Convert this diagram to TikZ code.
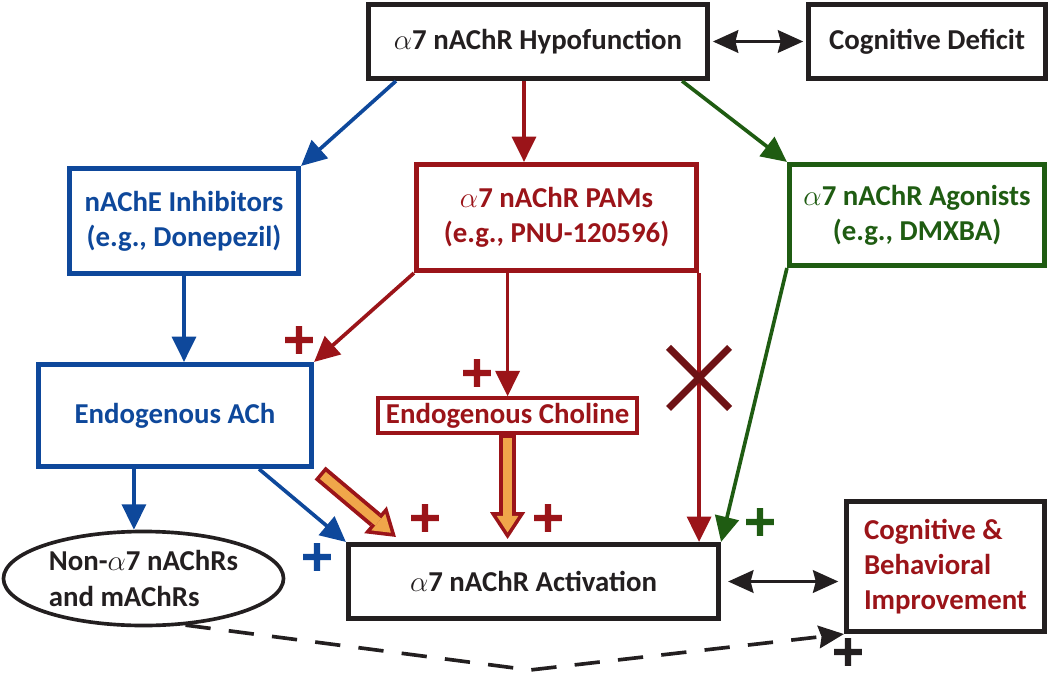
\documentclass[tikz,border=0pt]{standalone}
\usepackage{fontspec}
\setmainfont{Carlito}
\newfontfamily\plusfont[BoldFeatures={FakeBold=3}]{DejaVu Sans}
\usetikzlibrary{shapes,arrows.meta,calc}
\definecolor{ablue}{RGB}{14,72,155}
\definecolor{ared}{RGB}{155,20,25}
\definecolor{agreen}{RGB}{31,92,18}
\definecolor{aorange}{RGB}{240,166,74}
\definecolor{across}{RGB}{110,18,21}
\definecolor{ablack}{RGB}{35,31,32}
\tikzstyle{block} = [draw, rectangle, line width=3.6pt, text centered, inner sep=0pt, font=\fontsize{20.5}{25}\selectfont\bfseries]
\tikzstyle{oval} = [draw, ellipse, line width=2.6pt, align=left, inner sep=0pt, font=\fontsize{20.5}{25}\selectfont\bfseries]
\tikzstyle{line} = [draw, line width=2.6pt, -{Triangle[length=18pt,width=17pt]}]
\tikzstyle{both} = [draw, ablack, line width=2.4pt, {Stealth[length=18pt,width=16pt,inset=2pt]}-{Stealth[length=18pt,width=16pt,inset=2pt]}]
\tikzstyle{fatout} = [draw, ared, line width=12pt, -{Triangle[length=19pt,width=25pt,line width=0pt]}]
\tikzstyle{fatin} = [draw, aorange, line width=6.5pt, shorten <=2.6pt, shorten >=4.7pt, -{Triangle[length=11.7pt,width=15.4pt,line width=0pt]}]
\tikzstyle{plus} = [inner sep=0pt, font=\fontsize{30}{30}\selectfont\plusfont\bfseries]

\begin{document}
\begin{tikzpicture}[x=0.025cm, y=-0.025cm]
        \useasboundingbox (0,0) rectangle (1050,676);
        % boxes
        \node[block, ablack, minimum width=8.475cm, minimum height=1.85cm] (hypo) at (538,41.5) {$\alpha$7 nAChR Hypofunction};
        \node[block, ablack, right of=hypo, node distance=9.725cm, minimum width=5.925cm, minimum height=1.85cm] (deficit) {Cognitive Deficit};
        \node[block, ablue, align=center, minimum width=5.725cm, minimum height=2.625cm] (inhib) at (184,221) {nAChE Inhibitors\\(e.g., Donepezil)};
        \node[block, ared, align=center, minimum width=7cm, minimum height=2.65cm] (pams) at (556.5,217.5) {$\alpha$7 nAChR PAMs\\(e.g., PNU-120596)};
        \node[block, agreen, align=center, minimum width=6.375cm, minimum height=2.525cm] (agon) at (917,215) {$\alpha$7 nAChR Agonists\\(e.g., DMXBA)};
        \node[block, ablue, minimum width=6.825cm, minimum height=2.55cm] (ach) at (175,415.5) {Endogenous ACh};
        \node[block, ared, line width=2.4pt, right of=ach, node distance=8.3125cm, minimum width=6.475cm, minimum height=0.875cm] (choline) {Endogenous Choline};
        \node[block, ablack, minimum width=9.25cm, minimum height=1.85cm] (act) at (533.5,581.5) {$\alpha$7 nAChR Activation};
        \node[block, ared, draw=ablack, align=left, minimum width=4.95cm, minimum height=3.25cm] (cogn) at (945.5,566.5) {Cognitive \&\\Behavioral\\Improvement};
        \node[oval, ablack, minimum width=7cm, minimum height=2.35cm] (nonA) at (143.5,578.5) {Non-$\alpha$7 nAChRs\\and mAChRs};
        % helper points
        \coordinate (h0) at ($(hypo.south west)+(30,0)$);
        \coordinate (h1) at ($(hypo.south)+(-14,0)$);
        \coordinate (h2) at ($(hypo.south east)+(-28,0)$);
        \coordinate (a0) at ($(ach.south west)+(98,0)$);
        \coordinate (a1) at ($(ach.south east)+(-55,0)$);
        \coordinate (fat0) at ($(ach.south east)+(6,4)$);
        \coordinate (fat1) at ($(act.north west)+(50,-5)$);
        \coordinate (fat2) at ($(choline.south |- act.north)+(0,-3)$);
        \coordinate (dip) at (530,670);
        % connectors
        \path[line, ablue] (h0) -- (inhib.north east);
        \path[line, ared] (h1) -- (h1 |- pams.north);
        \path[line, agreen] (h2) -- (agon.north west);
        \path[both, shorten <=2pt, shorten >=2pt] (hypo.east) -- (deficit.west);
        \path[line, ablue] (inhib.south) -- (inhib.south |- ach.north);
        \path[line, ared] (pams.south west) -- (ach.north east);
        \path[line, ared] (choline.north |- pams.south) -- (choline.north);
        \path[line, ared] (pams.south east) -- (pams.south east |- act.north);
        \path[line, agreen] (agon.south west) -- (act.north east);
        \path[line, ablue] (a0) -- (a0 |- nonA.north);
        \path[line, ablue] (a1) -- (act.north west);
        \path[fatout] (fat0) -- (fat1);
        \path[fatin] (fat0) -- (fat1);
        \path[fatout] (choline.south) -- (fat2);
        \path[fatin] (choline.south) -- (fat2);
        \path[both, shorten <=5pt, shorten >=4pt] (act.east) -- (act.east -| cogn.west);
        \path[draw, ablack, line width=2.6pt, dash pattern=on 18pt off 13pt, -{Stealth[length=18pt,width=16pt,inset=2pt]}] (nonA.-48) -- (dip) -- (cogn.south west);
        % blocked path
        \node[cross out, draw=across, line width=5pt, minimum size=1.35cm, inner sep=0pt] (nox) at ($(pams.south east)!0.39!(pams.south east |- act.north)$) {};
        % signs
        \node[plus, ared] (p1) at (299,340) {+};
        \node[plus, ared] (p2) at (477,373) {+};
        \node[plus, ared] (p3) at (425,518) {+};
        \node[plus, ared] (p4) at (548,518) {+};
        \node[plus, ablue] (p5) at (317,557) {+};
        \node[plus, agreen] (p6) at (760,522) {+};
        \node[plus, ablack] (p7) at (848,652) {+};
\end{tikzpicture}
\end{document}
